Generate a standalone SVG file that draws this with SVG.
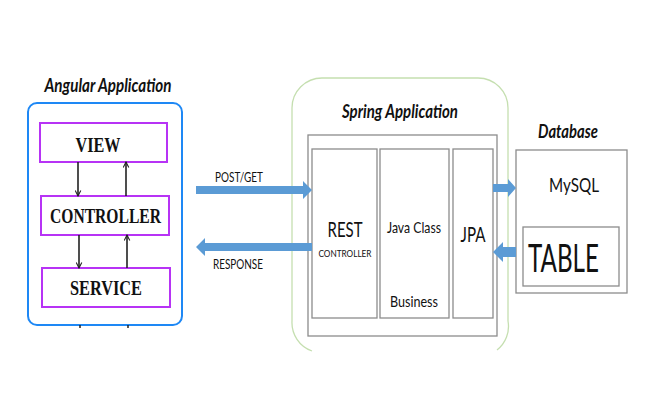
<svg xmlns="http://www.w3.org/2000/svg" width="667" height="419" viewBox="0 0 667 419">
<defs>
<style>
.title{font-family:Lato,"Open Sans",sans-serif;font-weight:bold;font-style:italic;font-size:18px;fill:#111}
.ser{font-family:"Liberation Serif",serif;font-weight:bold;font-size:21px;fill:#111}
.san{font-family:Lato,"Noto Sans",sans-serif;fill:#111}
.mvc{fill:#fff;stroke:#b733f5;stroke-width:2}
.gbox{fill:#fff;stroke:#8c8c8c;stroke-width:1.3}
.harr{fill:#5b9bd5}
.line{stroke:#222;stroke-width:1.6;fill:none}
</style>
<marker id="ah" viewBox="0 0 10 10" refX="9" refY="5" markerWidth="7" markerHeight="7" orient="auto" markerUnits="userSpaceOnUse">
<path d="M1,1 L9,5 L1,9" fill="none" stroke="#222" stroke-width="1.5"/>
</marker>
</defs>
<rect width="667" height="419" fill="#fff"/>

<g id="angular">
<text class="title" x="108" y="92" text-anchor="middle" textLength="127" lengthAdjust="spacingAndGlyphs">Angular Application</text>
<rect x="28" y="103" width="154" height="222" rx="9" fill="#fff" stroke="#1e88f5" stroke-width="2"/>
<line x1="80" y1="325" x2="80" y2="328" stroke="#222" stroke-width="1.5"/>
<line x1="128" y1="325" x2="128" y2="328" stroke="#222" stroke-width="1.5"/>
</g>
<g id="view">
<rect class="mvc" x="40" y="123" width="127" height="39"/>
<text class="ser" x="98" y="152" text-anchor="middle" textLength="45" lengthAdjust="spacingAndGlyphs">VIEW</text>
</g>
<g id="controller">
<rect class="mvc" x="41" y="196" width="128" height="39"/>
<text class="ser" x="105.5" y="223" text-anchor="middle" textLength="111" lengthAdjust="spacingAndGlyphs">CONTROLLER</text>
</g>
<g id="service">
<rect class="mvc" x="42" y="268" width="128" height="39"/>
<text class="ser" x="106" y="295" text-anchor="middle" textLength="72" lengthAdjust="spacingAndGlyphs">SERVICE</text>
</g>

<g id="spring">
<path d="M312,351 A30,30 0 0 1 292,321 V108 A30,30 0 0 1 322,78 H478 A30,30 0 0 1 508,108 V321 A30,30 0 0 1 497,350" fill="none" stroke="#c5dfb0" stroke-width="1.3"/>
<text class="title" x="400" y="118" text-anchor="middle" textLength="116" lengthAdjust="spacingAndGlyphs">Spring Application</text>
<rect class="gbox" x="308" y="135" width="189" height="201"/>
</g>
<g id="rest">
<rect class="gbox" x="312" y="149" width="65" height="169"/>
<text class="san" x="345" y="237" font-size="21" text-anchor="middle" textLength="35" lengthAdjust="spacingAndGlyphs">REST</text>
<text class="san" x="345" y="257" font-size="10" text-anchor="middle" textLength="53" lengthAdjust="spacingAndGlyphs">CONTROLLER</text>
</g>
<g id="javaclass">
<rect class="gbox" x="380" y="149" width="69" height="169"/>
<text class="san" x="414" y="233" font-size="15" text-anchor="middle" textLength="54" lengthAdjust="spacingAndGlyphs">Java Class</text>
<text class="san" x="414" y="307" font-size="15" text-anchor="middle" textLength="48" lengthAdjust="spacingAndGlyphs">Business</text>
</g>
<g id="jpa">
<rect class="gbox" x="453" y="149" width="40" height="169"/>
<text class="san" x="473" y="242" font-size="21" text-anchor="middle" textLength="25" lengthAdjust="spacingAndGlyphs">JPA</text>
</g>

<g id="database">
<text class="title" x="568" y="138" text-anchor="middle" textLength="60" lengthAdjust="spacingAndGlyphs">Database</text>
<rect class="gbox" x="516" y="150" width="111" height="143"/>
<text class="san" x="574" y="192" font-size="19" text-anchor="middle" textLength="50" lengthAdjust="spacingAndGlyphs">MySQL</text>
</g>
<g id="table">
<rect class="gbox" x="523" y="227" width="96" height="59"/>
<text class="san" x="528" y="272" font-size="38" textLength="71" lengthAdjust="spacingAndGlyphs">TABLE</text>
</g>

<g id="connectors">
<line class="line" x1="78" y1="162" x2="78" y2="196" marker-end="url(#ah)"/>
<line class="line" x1="126" y1="196" x2="126" y2="162" marker-end="url(#ah)"/>
<line class="line" x1="79" y1="235" x2="79" y2="268" marker-end="url(#ah)"/>
<line class="line" x1="127" y1="268" x2="127" y2="235" marker-end="url(#ah)"/>
<polygon class="harr" points="196,186 303,186 303,181 312,190 303,199 303,194 196,194"/>
<text class="san" x="215" y="182" font-size="13" textLength="48" lengthAdjust="spacingAndGlyphs">POST/GET</text>
<polygon class="harr" points="312,243 205,243 205,238 196,247 205,256 205,251 312,251"/>
<text class="san" x="213" y="269" font-size="13" textLength="50" lengthAdjust="spacingAndGlyphs">RESPONSE</text>
<polygon class="harr" points="493,184 508,184 508,179 516,188 508,197 508,192 493,192"/>
<polygon class="harr" points="516,247 503,247 503,242 493,252 503,262 503,257 516,257"/>
</g>
</svg>
